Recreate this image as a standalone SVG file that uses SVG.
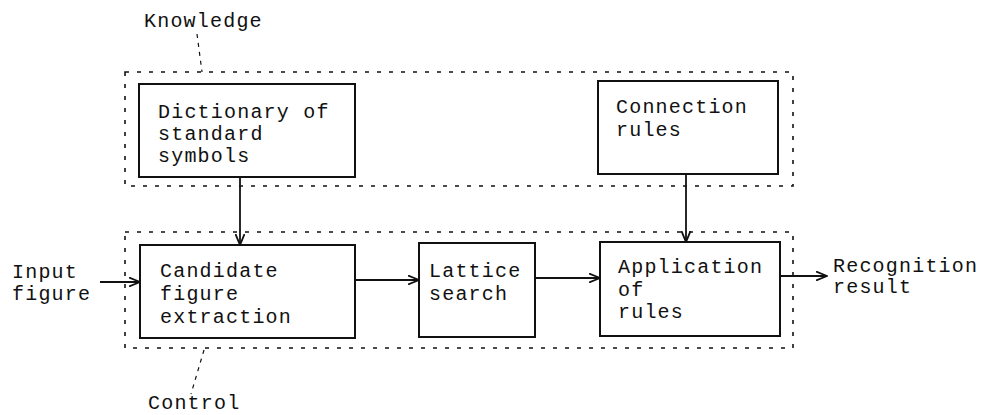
<svg xmlns="http://www.w3.org/2000/svg" width="981" height="415" viewBox="0 0 981 415">
<defs>
<style>
text{font-family:"Liberation Mono","Courier New",monospace;font-size:20px;letter-spacing:1.2px;fill:#111}
.box{fill:none;stroke:#111;stroke-width:2}
.grp{fill:none;stroke:#111;stroke-width:1.6;stroke-dasharray:4 8}
.lead{fill:none;stroke:#111;stroke-width:1.2;stroke-dasharray:4 5}
.conn{fill:none;stroke:#111;stroke-width:1.8}
</style>
<marker id="arr" viewBox="0 0 12 10" refX="11" refY="5" markerWidth="12" markerHeight="10" markerUnits="userSpaceOnUse" orient="auto">
<path d="M0,0.5 L11,5 L0,9.5" fill="none" stroke="#111" stroke-width="1.8"/>
</marker>
</defs>
<rect width="981" height="415" fill="#fff"/>
<g id="knowledge">
<rect class="grp" x="125" y="72" width="668" height="114"/>
<path class="lead" d="M197,34 L202,72"/>
<text x="144" y="27">Knowledge</text>
</g>
<g id="control">
<rect class="grp" x="125" y="232" width="668" height="116"/>
<path class="lead" d="M204,350 L191,394"/>
<text x="148" y="409">Control</text>
</g>
<g id="dictionary">
<rect class="box" x="139" y="84" width="216" height="93"/>
<text x="158" y="118">Dictionary of</text>
<text x="158" y="140">standard</text>
<text x="158" y="162">symbols</text>
</g>
<g id="connection-rules">
<rect class="box" x="598" y="81" width="180" height="93"/>
<text x="616" y="113">Connection</text>
<text x="616" y="136">rules</text>
</g>
<g id="candidate">
<rect class="box" x="140" y="245" width="215" height="93"/>
<text x="160" y="277">Candidate</text>
<text x="160" y="300">figure</text>
<text x="160" y="323">extraction</text>
</g>
<g id="lattice">
<rect class="box" x="419" y="243" width="116" height="94"/>
<text x="429" y="277">Lattice</text>
<text x="429" y="300">search</text>
</g>
<g id="application">
<rect class="box" x="600" y="242" width="180" height="94"/>
<text x="618" y="273">Application</text>
<text x="618" y="296">of</text>
<text x="618" y="318">rules</text>
</g>
<g id="input">
<text x="12" y="278">Input</text>
<text x="12" y="300">figure</text>
</g>
<g id="result">
<text x="833" y="272">Recognition</text>
<text x="833" y="293">result</text>
</g>
<g id="connectors">
<path class="conn" d="M240,177 L240,245" marker-end="url(#arr)"/>
<path class="conn" d="M686,174 L686,242" marker-end="url(#arr)"/>
<path class="conn" d="M100,282 L140,282" marker-end="url(#arr)"/>
<path class="conn" d="M355,280 L419,280" marker-end="url(#arr)"/>
<path class="conn" d="M535,278 L600,278" marker-end="url(#arr)"/>
<path class="conn" d="M780,276 L827,276" marker-end="url(#arr)"/>
</g>
</svg>
